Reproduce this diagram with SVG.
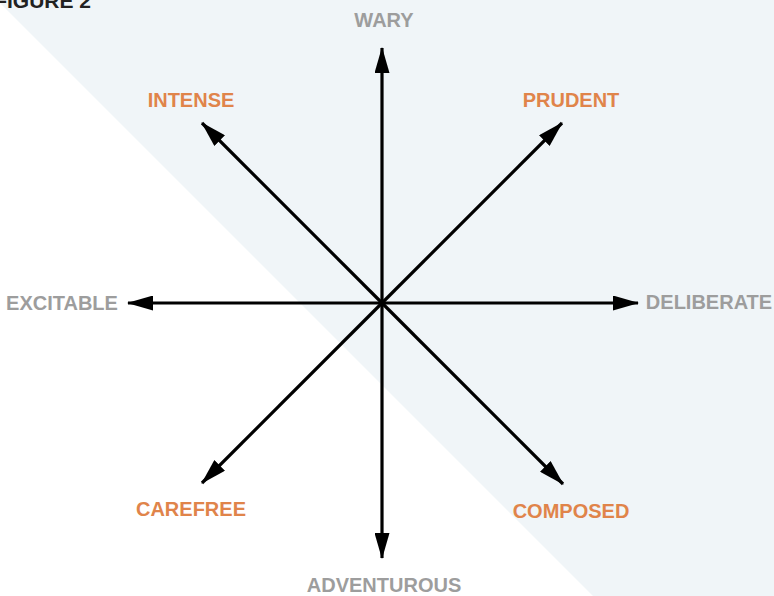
<svg xmlns="http://www.w3.org/2000/svg" width="774" height="596" viewBox="0 0 774 596">
<style>
text{font-family:"Liberation Sans",Arial,sans-serif;font-weight:bold;font-size:20px;text-anchor:middle}
.g{fill:#9d9d9d}
.o{fill:#e0844a}
.ax{stroke:#000;stroke-width:3.2;fill:none;marker-end:url(#ah)}
</style>
<defs>
<marker id="ah" viewBox="0 0 26 15" refX="25" refY="7.5" markerWidth="26" markerHeight="15" markerUnits="userSpaceOnUse" orient="auto">
<path d="M0,0 L26,7.5 L0,15 Z" fill="#000"/>
</marker>
</defs>
<rect width="774" height="596" fill="#fff"/>
<polygon points="-3,0 774,0 774,596 593,596" fill="#f0f5f8"/>
<text x="91" y="8" style="text-anchor:end;fill:#222;font-size:21px">FIGURE 2</text>
<g id="connectors">
<line class="ax" x1="382" y1="303" x2="382" y2="48"/>
<line class="ax" x1="382" y1="303" x2="382" y2="558"/>
<line class="ax" x1="382" y1="303" x2="128" y2="303"/>
<line class="ax" x1="382" y1="303" x2="638" y2="303"/>
<line class="ax" x1="382" y1="303" x2="202" y2="123"/>
<line class="ax" x1="382" y1="303" x2="562" y2="123"/>
<line class="ax" x1="382" y1="303" x2="202" y2="483"/>
<line class="ax" x1="382" y1="303" x2="563" y2="484"/>
</g>
<g id="wary"><text class="g" x="384" y="27">WARY</text></g>
<g id="intense"><text class="o" x="191" y="107">INTENSE</text></g>
<g id="prudent"><text class="o" x="571" y="107">PRUDENT</text></g>
<g id="excitable"><text class="g" x="62" y="310">EXCITABLE</text></g>
<g id="deliberate"><text class="g" x="709" y="309">DELIBERATE</text></g>
<g id="carefree"><text class="o" x="191" y="516">CAREFREE</text></g>
<g id="composed"><text class="o" x="571" y="518">COMPOSED</text></g>
<g id="adventurous"><text class="g" x="384" y="592">ADVENTUROUS</text></g>
</svg>
